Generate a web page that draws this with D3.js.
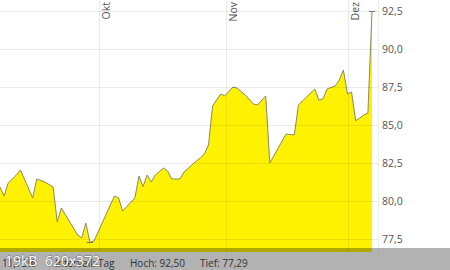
<!DOCTYPE html>
<html><head><meta charset="utf-8">
<script src="https://cdn.jsdelivr.net/npm/d3@7"></script>
<style>
html,body{margin:0;padding:0;background:#fff;}
svg{display:block;font-family:"Open Sans","DejaVu Sans",sans-serif;}
</style></head>
<body>
<script>
const dates = ["2020-09-07","2020-09-08","2020-09-09","2020-09-11","2020-09-12","2020-09-15","2020-09-16","2020-09-18","2020-09-20","2020-09-21","2020-09-22","2020-09-26","2020-09-27","2020-09-28","2020-09-29","2020-09-30","2020-10-05","2020-10-06","2020-10-07","2020-10-10","2020-10-11","2020-10-12","2020-10-13","2020-10-14","2020-10-15","2020-10-17","2020-10-18","2020-10-19","2020-10-21","2020-10-22","2020-10-25","2020-10-26","2020-10-27","2020-10-28","2020-10-29","2020-10-31","2020-11-01","2020-11-03","2020-11-04","2020-11-06","2020-11-08","2020-11-09","2020-11-11","2020-11-12","2020-11-16","2020-11-18","2020-11-19","2020-11-21","2020-11-23","2020-11-24","2020-11-25","2020-11-26","2020-11-28","2020-11-29","2020-11-30","2020-12-01","2020-12-02","2020-12-03","2020-12-04","2020-12-05","2020-12-06","2020-12-07"];
const prices = [80.92,80.33,81.18,81.71,82.04,80.20,81.45,81.25,80.92,78.62,79.54,77.76,77.57,78.55,77.29,77.37,80.33,80.20,79.34,80.20,81.64,80.95,81.71,81.25,81.71,82.17,81.97,81.45,81.45,81.90,82.63,82.83,83.10,83.68,86.25,87.04,86.91,87.50,87.43,86.97,86.38,86.32,86.91,82.50,84.41,84.34,86.32,86.84,87.37,86.64,86.71,87.37,87.57,87.96,88.62,87.04,87.17,85.28,85.46,85.66,85.79,92.50];
const monthTicks = ["2020-10-01","2020-11-01","2020-12-01"];
const monthLabels = ["Okt","Nov","Dez"];
const yTicks = [77.5,80.0,82.5,85.0,87.5,90.0,92.5];
const footerItems = ["11,75%","Intervall: Tag","Hoch: 92,50","Tief: 77,29"];
const overlayText = "19kB  620x372";

const W = 450, H = 270;
const plotRight = 372, plotBottom = 252, axisX = 378;
const parse = d3.timeParse("%Y-%m-%d");
const data = dates.map((d,i)=>({date:parse(d), v:prices[i]}));

const x = d3.scaleTime().domain([parse("2020-09-07"), parse("2020-12-07")]).range([0, plotRight]);
const y = d3.scaleLinear().domain([77.5, 92.5]).range([239, 11]);

const svg = d3.select("body").append("svg").attr("width",W).attr("height",H);

// area
const area = d3.area().x(d=>x(d.date)).y0(plotBottom).y1(d=>y(d.v));
svg.append("path").datum(data).attr("d",area).attr("fill","#fff200");
const line = d3.line().x(d=>x(d.date)).y(d=>y(d.v));
svg.append("path").datum(data).attr("d",line).attr("fill","none").attr("stroke","#8b8a5c").attr("stroke-width",1);

// horizontal gridlines
const grid = svg.append("g");
grid.selectAll("line.h").data(yTicks).join("line")
  .attr("x1",0).attr("x2",axisX).attr("y1",d=>Math.round(y(d))+0.5).attr("y2",d=>Math.round(y(d))+0.5)
  .attr("stroke","rgba(0,0,0,0.08)");
// vertical gridlines
grid.selectAll("line.v").data(monthTicks).join("line")
  .attr("x1",d=>Math.round(x(parse(d)))+1.5).attr("x2",d=>Math.round(x(parse(d)))+1.5)
  .attr("y1",0).attr("y2",plotBottom).attr("stroke","rgba(0,0,0,0.08)");
// right axis line
svg.append("line").attr("x1",axisX+0.5).attr("x2",axisX+0.5).attr("y1",0).attr("y2",plotBottom)
  .attr("stroke","rgba(0,0,0,0.07)");

// month labels
svg.selectAll("text.m").data(monthTicks).join("text")
  .attr("transform",(d)=>`translate(${Math.round(x(parse(d)))+11.5},2) rotate(-90)`)
  .attr("text-anchor","end").attr("font-size",10.5).attr("fill","#555")
  .text((d,i)=>monthLabels[i]);

// y labels
const fmt = v => v.toFixed(1).replace(".",",");
svg.selectAll("text.y").data(yTicks).join("text")
  .attr("x",382).attr("y",d=>y(d)+4).attr("font-size",10.5).attr("fill","#555")
  .text(fmt);

// high / low markers
const hi = data[d3.maxIndex(data,d=>d.v)], lo = data[d3.minIndex(data,d=>d.v)];
[hi,lo].forEach(p=>{
  svg.append("line").attr("x1",x(p.date)-3).attr("x2",x(p.date)+3)
    .attr("y1",Math.round(y(p.v))+0.5).attr("y2",Math.round(y(p.v))+0.5)
    .attr("stroke","#777").attr("stroke-width",1);
});

// footer overlay
svg.append("rect").attr("x",0).attr("y",248).attr("width",W).attr("height",H-248).attr("fill","rgba(0,0,0,0.3)");
const fx = [2,55,130,200];
svg.selectAll("text.f").data(footerItems).join("text")
  .attr("x",(d,i)=>fx[i]).attr("y",267).attr("font-size",10).attr("fill","#333")
  .attr("xml:space","preserve").text(d=>d);
svg.append("text").attr("x",5).attr("y",266).attr("font-size",14).attr("fill","#fff")
  .attr("style","paint-order:stroke;stroke:rgba(0,0,0,0.25);stroke-width:1.5px;white-space:pre")
  .text(overlayText);
</script>
</body></html>
